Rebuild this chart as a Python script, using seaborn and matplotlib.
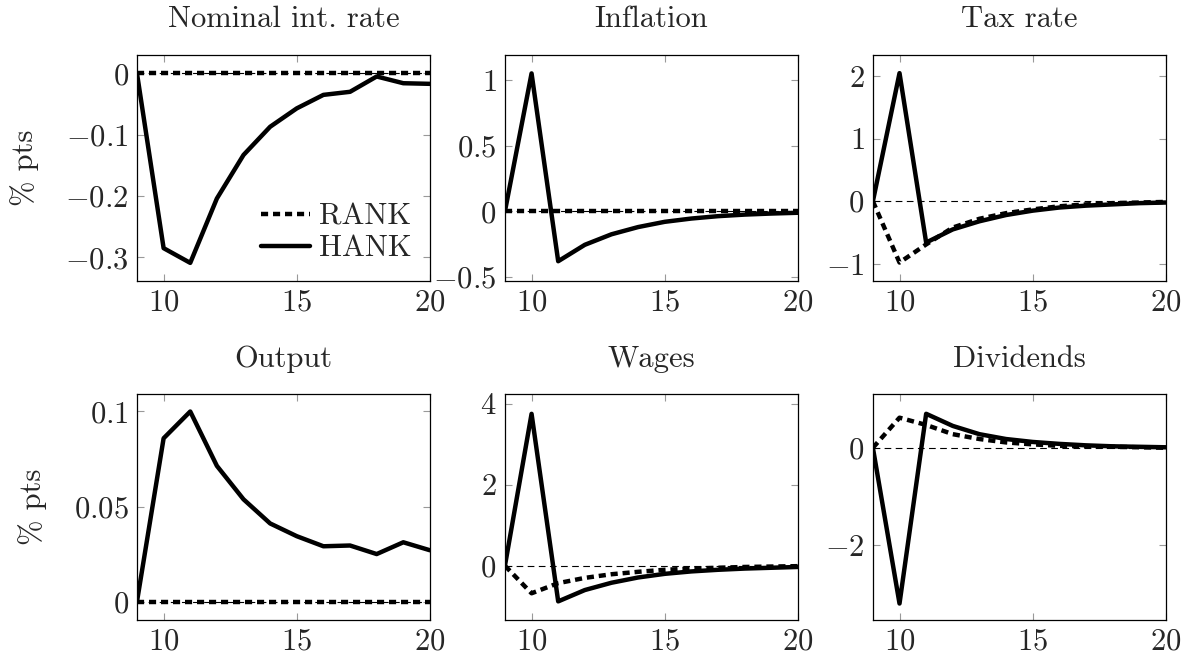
import pandas as pd
import numpy as np
import matplotlib
matplotlib.use("Agg")
import matplotlib.pyplot as plt
import seaborn as sns
from matplotlib.lines import Line2D
from matplotlib.ticker import FixedLocator, FuncFormatter

# ── Data ──────────────────────────────────────────────────────────────────────
periods = list(range(9, 21))

rate_rank = [0, 0, 0, 0, 0, 0, 0, 0, 0, 0, 0, 0]
rate_hank = [0, -0.285, -0.309, -0.204, -0.133, -0.087, -0.057, -0.035, -0.030, -0.005, -0.016, -0.017]

infl_rank = [0, 0, 0, 0, 0, 0, 0, 0, 0, 0, 0, 0]
infl_hank = [0, 1.05, -0.38, -0.255, -0.175, -0.12, -0.08, -0.055, -0.037, -0.025, -0.017, -0.011]

tax_rank = [0, -0.98, -0.69, -0.42, -0.28, -0.19, -0.13, -0.08, -0.05, -0.03, -0.02, -0.01]
tax_hank = [0, 2.05, -0.66, -0.45, -0.32, -0.22, -0.15, -0.10, -0.07, -0.05, -0.03, -0.02]

out_rank = [0, 0, 0, 0, 0, 0, 0, 0, 0, 0, 0, 0]
out_hank = [0, 0.0859, 0.100, 0.0714, 0.0538, 0.0411, 0.0344, 0.0291, 0.0295, 0.025, 0.0312, 0.027]

wage_rank = [0, -0.68, -0.43, -0.30, -0.21, -0.15, -0.10, -0.07, -0.05, -0.03, -0.02, -0.01]
wage_hank = [0, 3.75, -0.88, -0.60, -0.42, -0.29, -0.20, -0.14, -0.10, -0.07, -0.05, -0.03]

div_rank = [0, 0.62, 0.47, 0.28, 0.18, 0.11, 0.07, 0.04, 0.03, 0.02, 0.01, 0.0]
div_hank = [0, -3.21, 0.70, 0.45, 0.28, 0.18, 0.12, 0.08, 0.05, 0.03, 0.02, 0.01]

titles = ["Nominal int. rate", "Inflation", "Tax rate", "Output", "Wages", "Dividends"]
series = [(rate_rank, rate_hank), (infl_rank, infl_hank), (tax_rank, tax_hank),
          (out_rank, out_hank), (wage_rank, wage_hank), (div_rank, div_hank)]
yticks = [[-0.3, -0.2, -0.1, 0], [-0.5, 0, 0.5, 1], [-1, 0, 1, 2],
          [0, 0.05, 0.1], [0, 2, 4], [-2, 0]]
ylims = [(-0.338, 0.03), (-0.528, 1.19), (-1.27, 2.34),
         (-0.0097, 0.109), (-1.34, 4.23), (-3.55, 1.10)]

# ── Style ─────────────────────────────────────────────────────────────────────
sns.set_style("ticks")
plt.rcParams["font.family"] = ["cmr10", "DejaVu Serif"]
plt.rcParams["mathtext.fontset"] = "cm"
plt.rcParams["axes.formatter.use_mathtext"] = True
plt.rcParams["axes.unicode_minus"] = True

FS = 22
LW = 3.2
RANK_DASH = (1.6, 1.1)

def fmt(v, pos):
    return "$" + f"{v:g}" + "$"

fig, axes = plt.subplots(2, 3, figsize=(11.86, 6.55), dpi=100)
fig.subplots_adjust(left=0.1155, right=0.983, top=0.916, bottom=0.0534,
                    wspace=0.256, hspace=0.504)

for i, ax in enumerate(axes.flat):
    rank, hank = series[i]
    df = pd.DataFrame({
        "t": periods * 2,
        "val": rank + hank,
        "model": ["RANK"] * len(periods) + ["HANK"] * len(periods),
    })
    ax.axhline(0, color="black", lw=0.8, ls=(0, (6, 4)), zorder=1)
    sns.lineplot(data=df, x="t", y="val", style="model", style_order=["RANK", "HANK"],
                 dashes={"RANK": RANK_DASH, "HANK": ""}, color="black",
                 linewidth=LW, legend=False, ax=ax)

    ax.set_xlim(9, 20)
    ax.set_ylim(*ylims[i])
    ax.xaxis.set_major_locator(FixedLocator([10, 15, 20]))
    ax.yaxis.set_major_locator(FixedLocator(yticks[i]))
    ax.xaxis.set_major_formatter(FuncFormatter(fmt))
    ax.yaxis.set_major_formatter(FuncFormatter(fmt))
    ax.tick_params(direction="in", length=5, width=0.8, color="#999999",
                   labelsize=FS, top=True, right=True, pad=6)
    for sp in ax.spines.values():
        sp.set_visible(True)
        sp.set_linewidth(0.9)
        sp.set_color("black")
    ax.set_xlabel("")
    ax.set_ylabel("% pts" if i % 3 == 0 else "", fontsize=FS, labelpad=19)
    ax.set_title(titles[i], fontsize=FS, pad=20)

# Legend in the first panel
handles = [Line2D([], [], color="black", lw=LW, ls=(0, RANK_DASH)),
           Line2D([], [], color="black", lw=LW)]
axes[0, 0].legend(handles, ["RANK", "HANK"], loc="lower right", frameon=False,
                  fontsize=FS, handlelength=1.6, handletextpad=0.3,
                  labelspacing=0.15, borderaxespad=0.2)

plt.savefig("out.png", dpi=100)
plt.close()
